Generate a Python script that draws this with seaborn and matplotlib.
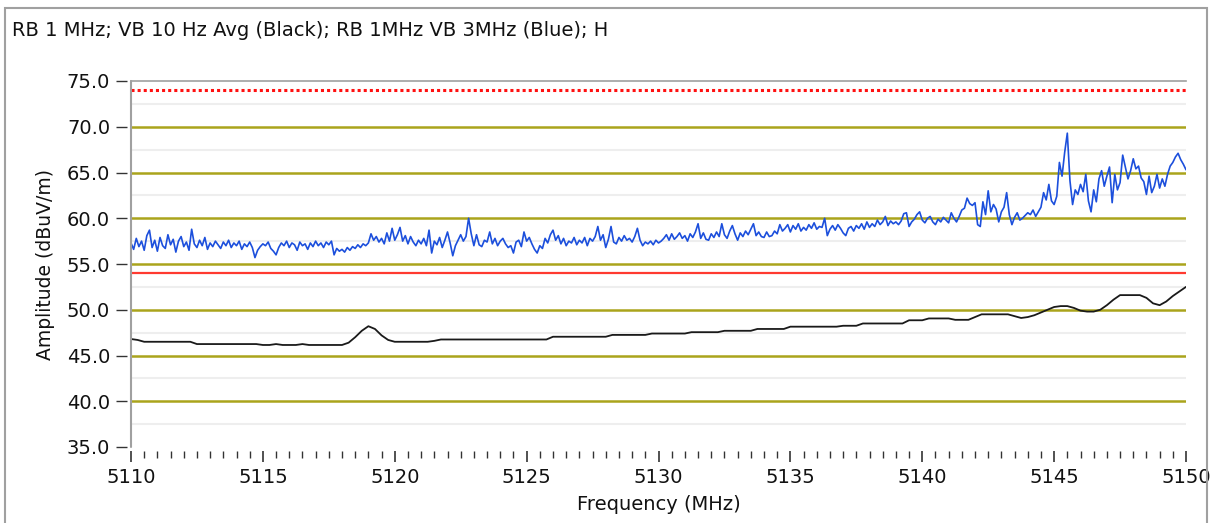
import numpy as np
import pandas as pd
import matplotlib
matplotlib.use("Agg")
import matplotlib.pyplot as plt
from matplotlib.ticker import MultipleLocator, FormatStrFormatter
from matplotlib.patches import Rectangle
import seaborn as sns

# ---- data -------------------------------------------------------------
title_text = "RB 1 MHz; VB 10 Hz Avg (Black); RB 1MHz VB 3MHz (Blue); H"
x_label = "Frequency (MHz)"
y_label = "Amplitude (dBuV/m)"

f_start, f_stop = 5110.0, 5150.0
y_min, y_max = 35.0, 75.0
major_levels = [40.0, 45.0, 50.0, 55.0, 60.0, 65.0, 70.0]
minor_levels = [37.5, 42.5, 47.5, 52.5, 57.5, 62.5, 67.5, 72.5]
peak_limit = 74.0      # dotted red
avg_limit = 54.0       # solid red

# peak detector sweep (blue), 0.1 MHz steps
blue_level = [
    57.3, 56.6, 57.8, 56.9, 57.5, 56.5, 58.1, 58.7, 56.8, 57.6,
    56.4, 57.9, 57.0, 56.7, 58.2, 57.1, 57.7, 56.3, 57.5, 58.0,
    56.9, 57.4, 56.5, 58.8, 57.2, 56.8, 57.6, 57.0, 57.9, 56.6,
    57.3, 56.9, 57.5, 57.1, 56.7, 57.4, 57.0, 57.6, 56.8, 57.3,
    57.0, 57.5, 56.6, 57.2, 56.9, 57.4, 56.8, 55.7, 56.5, 56.9,
    57.2, 57.0, 57.4, 56.7, 56.4, 56.0, 56.8, 57.3, 57.0, 57.5,
    56.8, 57.3, 57.1, 56.5, 57.4, 57.0, 57.2, 56.6, 57.3, 56.9,
    57.5, 57.0, 57.3, 56.8, 57.4, 57.1, 57.5, 56.0, 56.7, 56.4,
    56.6, 56.3, 56.8, 56.5, 56.9, 56.7, 57.1, 56.8, 57.2, 57.0,
    57.3, 58.3, 57.6, 58.0, 57.4, 57.8, 57.2, 58.4, 57.5, 58.9,
    57.6, 58.2, 59.0, 57.5, 58.1, 57.2, 58.0, 57.4, 57.0, 57.6,
    57.2, 57.8, 57.0, 58.7, 56.2, 57.5, 57.1, 57.9, 56.8, 57.6,
    58.5, 57.3, 55.9, 57.0, 57.6, 58.2, 57.5, 58.0, 60.0, 58.3,
    57.0, 58.2, 57.1, 56.9, 57.6, 57.4, 58.5, 57.2, 57.8, 57.0,
    57.5, 57.8, 57.2, 56.8, 57.0, 56.2, 57.4, 57.6, 56.9, 58.5,
    57.5, 57.9, 57.2, 56.6, 56.2, 57.0, 56.7, 57.8, 57.3, 58.2,
    58.7, 57.6, 58.1, 57.2, 57.8, 57.0, 57.5, 57.3, 57.9, 57.1,
    57.6, 57.3, 57.9, 57.0, 57.8, 57.5, 58.0, 59.1, 57.6, 58.2,
    56.8, 57.7, 59.1, 57.4, 57.2, 57.9, 57.5, 58.1, 57.6, 57.8,
    57.4, 58.0, 58.9, 57.6, 57.0, 57.4, 57.2, 57.5, 57.1, 57.6,
    57.3, 57.5, 57.8, 58.2, 57.6, 58.3, 57.7, 58.0, 58.4, 57.8,
    58.1, 57.5, 58.3, 57.9, 58.5, 59.4, 57.8, 58.4, 57.7, 57.6,
    58.3, 57.9, 58.5, 58.0, 59.4, 58.2, 57.8, 58.6, 59.2, 58.3,
    57.6, 58.4, 58.0, 58.6, 58.2, 58.8, 59.4, 58.1, 58.5, 58.0,
    57.9, 58.5, 58.0, 58.1, 58.6, 58.3, 59.3, 58.6, 58.9, 59.3,
    58.5, 59.2, 58.8, 59.4, 58.6, 59.0, 58.7, 59.3, 58.9, 59.5,
    58.8, 59.1, 59.0, 60.0, 58.1, 58.8, 59.2, 58.7, 59.3, 58.9,
    58.4, 58.1, 58.9, 59.1, 58.6, 59.2, 58.9, 59.4, 58.8, 59.6,
    59.0, 59.4, 59.1, 59.8, 59.3, 59.6, 60.2, 59.2, 59.7, 59.4,
    59.6, 59.3, 59.7, 60.5, 60.6, 59.1, 59.6, 59.9, 60.4, 60.7,
    59.8, 59.5, 60.0, 60.2, 59.6, 59.3, 59.9, 59.6, 60.1, 59.8,
    59.5, 60.6, 60.0, 59.6, 60.2, 60.9, 61.1, 62.2, 61.6, 61.4,
    61.7, 59.3, 59.1, 61.8, 60.4, 63.0, 60.7, 61.5, 61.0, 59.6,
    60.7, 61.2, 62.8, 60.4, 59.3, 60.1, 60.6, 59.8, 60.0, 60.3,
    60.6, 60.4, 60.9, 60.2, 60.7, 61.2, 62.8, 62.0, 63.7, 61.9,
    61.5, 62.4, 66.1, 64.6, 67.2, 69.3, 64.1, 61.5, 63.1, 62.6,
    63.7, 62.9, 64.8, 61.9, 60.7, 63.1, 61.8, 64.3, 65.2, 63.5,
    64.6, 65.6, 61.7, 64.8, 63.1, 63.9, 66.9, 65.6, 64.3, 65.2,
    66.5, 65.4, 65.7, 64.4, 64.0, 62.6, 64.6, 62.8, 63.5, 64.8,
    63.3, 64.3, 63.5, 64.8, 65.7, 66.1, 66.7, 67.1, 66.4, 65.9,
    65.3,
]

# average detector sweep (black), 0.25 MHz steps
black_level = [
    46.8, 46.7, 46.5, 46.5, 46.5, 46.5, 46.5, 46.5, 46.5, 46.5,
    46.25, 46.25, 46.25, 46.25, 46.25, 46.25, 46.25, 46.25, 46.25, 46.25,
    46.15, 46.15, 46.25, 46.15, 46.15, 46.15, 46.25, 46.15, 46.15, 46.15,
    46.15, 46.15, 46.15, 46.4, 47.0, 47.7, 48.2, 47.9, 47.2, 46.7,
    46.5, 46.5, 46.5, 46.5, 46.5, 46.5, 46.6, 46.75, 46.75, 46.75,
    46.75, 46.75, 46.75, 46.75, 46.75, 46.75, 46.75, 46.75, 46.75, 46.75,
    46.75, 46.75, 46.75, 46.75, 47.05, 47.05, 47.05, 47.05, 47.05, 47.05,
    47.05, 47.05, 47.05, 47.25, 47.25, 47.25, 47.25, 47.25, 47.25, 47.4,
    47.4, 47.4, 47.4, 47.4, 47.4, 47.55, 47.55, 47.55, 47.55, 47.55,
    47.7, 47.7, 47.7, 47.7, 47.7, 47.9, 47.9, 47.9, 47.9, 47.9,
    48.15, 48.15, 48.15, 48.15, 48.15, 48.15, 48.15, 48.15, 48.25, 48.25,
    48.25, 48.5, 48.5, 48.5, 48.5, 48.5, 48.5, 48.5, 48.85, 48.85,
    48.85, 49.05, 49.05, 49.05, 49.05, 48.9, 48.9, 48.9, 49.2, 49.5,
    49.5, 49.5, 49.5, 49.5, 49.3, 49.1, 49.2, 49.4, 49.7, 50.0,
    50.3, 50.4, 50.4, 50.2, 49.9, 49.8, 49.8, 50.0, 50.5, 51.1,
    51.6, 51.6, 51.6, 51.6, 51.3, 50.7, 50.5, 50.9, 51.5, 52.0,
    52.5,
]

blue_freq = np.linspace(f_start, f_stop, len(blue_level))
black_freq = np.linspace(f_start, f_stop, len(black_level))

blue_df = pd.DataFrame({"freq": blue_freq, "level": blue_level})
black_df = pd.DataFrame({"freq": black_freq, "level": black_level})

# ---- style ------------------------------------------------------------
sns.set_theme(style="white")
plt.rcParams["font.family"] = ["DejaVu Sans"]
plt.rcParams["font.size"] = 14

olive = "#aaa41c"
frame_gray = "#a0a0a0"
text_color = "#111111"

fig = plt.figure(figsize=(12.14, 5.23), dpi=100)
fig.patch.set_facecolor("white")
ax = fig.add_axes([131 / 1214, 1 - 447 / 523, 1055 / 1214, 366 / 523])
ax.set_facecolor("white")

# outer frame of the panel
fig.patches.append(Rectangle((5 / 1214, -0.05), 1202 / 1214, 1.05 - 8 / 523,
                             transform=fig.transFigure, fill=False,
                             edgecolor=frame_gray, linewidth=1.5))

ax.set_xlim(f_start, f_stop)
ax.set_ylim(y_min, y_max)

ax.yaxis.set_major_locator(MultipleLocator(5))
ax.yaxis.set_major_formatter(FormatStrFormatter("%.1f"))
ax.xaxis.set_major_locator(MultipleLocator(5))
ax.xaxis.set_minor_locator(MultipleLocator(0.5))
ax.xaxis.set_major_formatter(FormatStrFormatter("%d"))
ax.grid(False)

# horizontal rulings: olive every 5 dB, faint gray in between
ax.hlines(minor_levels, f_start, f_stop, color="#eeeeee", linewidth=1.5,
          zorder=0)
ax.hlines(major_levels, f_start, f_stop, color=olive, linewidth=1.8,
          zorder=1)

# limit lines
ax.axhline(peak_limit, color="#ff1010", linewidth=2.2,
           linestyle=(0, (1, 1)), zorder=3)
ax.axhline(avg_limit, color="#ff3a30", linewidth=1.6, zorder=3)

# sweeps
sns.lineplot(data=blue_df, x="freq", y="level", ax=ax, color="#1c4fdc",
             linewidth=1.2, estimator=None, sort=False, zorder=4)
sns.lineplot(data=black_df, x="freq", y="level", ax=ax, color="#1a1a1a",
             linewidth=1.3, estimator=None, sort=False, zorder=4)

# spines and ticks
for side in ("left", "bottom"):
    ax.spines[side].set_position(("outward", 3))
    ax.spines[side].set_visible(False)
ax.spines["right"].set_visible(False)
ax.spines["top"].set_visible(True)
ax.spines["top"].set_color(frame_gray)
ax.spines["top"].set_linewidth(1.2)
ax.plot([0, 0], [0, 1], transform=ax.transAxes, color=frame_gray,
        linewidth=1.5, clip_on=False, zorder=5)

ax.tick_params(axis="y", which="major", direction="out", length=8, width=1,
               color="#333333", pad=4, labelsize=14, labelcolor=text_color,
               left=True)
ax.tick_params(axis="x", which="major", direction="out", length=8, width=1.2,
               color="#333333", pad=4, labelsize=14, labelcolor=text_color,
               bottom=True)
ax.tick_params(axis="x", which="minor", direction="out", length=5, width=1,
               color="#333333", bottom=True)

ax.set_xlabel(x_label, fontsize=14, color=text_color)
ax.set_ylabel(y_label, fontsize=13.5, color=text_color)
ax.xaxis.set_label_coords(0.5, -0.158)
ax.xaxis.label.set_va("center")
ax.yaxis.set_label_coords(-0.0815, 0.5)
ax.yaxis.label.set_va("center")

fig.text(12 / 1214, 1 - 30 / 523, title_text, ha="left", va="center",
         fontsize=14, color=text_color)

fig.savefig("out.png", dpi=100, facecolor="white")
